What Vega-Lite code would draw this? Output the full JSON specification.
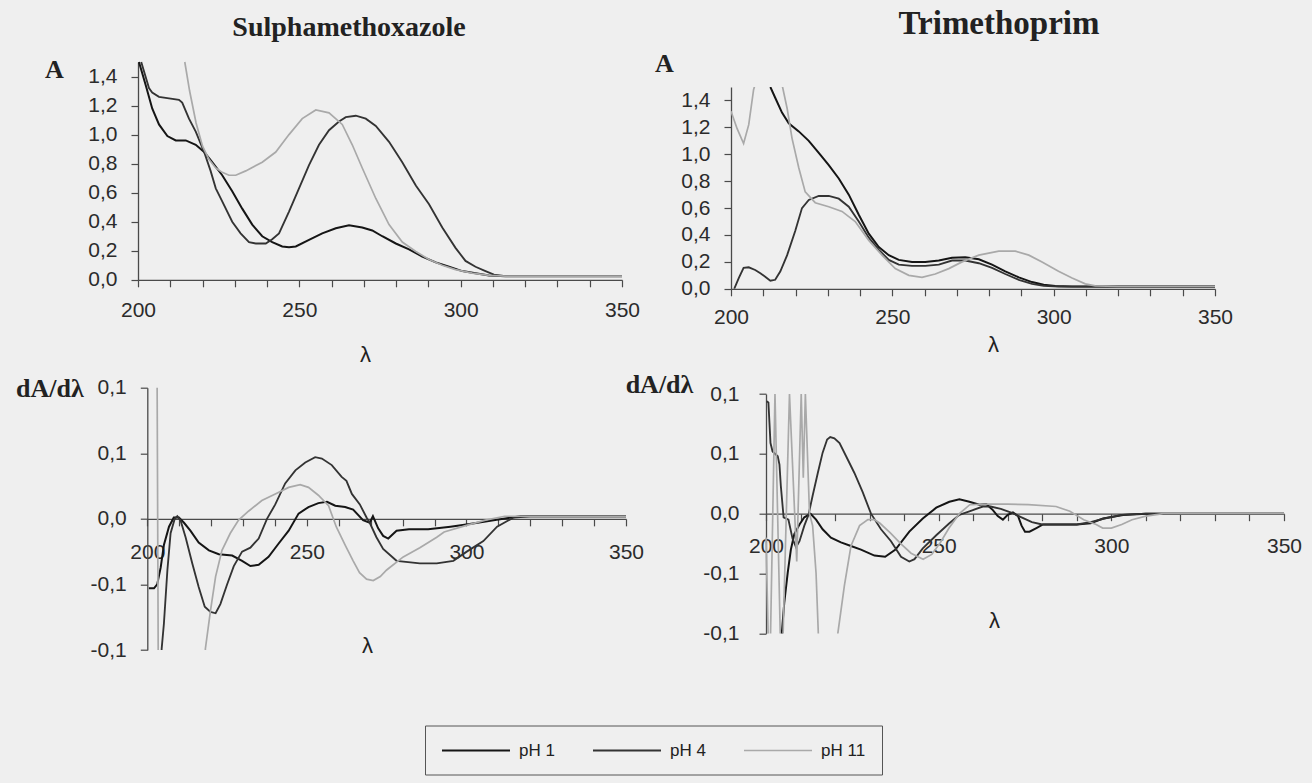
{
"$schema":"https://vega.github.io/schema/vega-lite/v6.json",
"background":"#efefef",
"autosize":{"type":"pad"},
"padding":{"left":15,"top":8,"right":10,"bottom":10},
"datasets":{
"smxA":[
{"lambda":200.3,"value":1.5,"pH":"pH 1"},{"lambda":202.4,"value":1.34,"pH":"pH 1"},{"lambda":204.4,"value":1.18,"pH":"pH 1"},{"lambda":206.5,"value":1.07,"pH":"pH 1"},{"lambda":209.1,"value":0.99,"pH":"pH 1"},{"lambda":211.7,"value":0.96,"pH":"pH 1"},{"lambda":214.8,"value":0.96,"pH":"pH 1"},{"lambda":217.9,"value":0.93,"pH":"pH 1"},{"lambda":220.5,"value":0.88,"pH":"pH 1"},{"lambda":223.0,"value":0.81,"pH":"pH 1"},{"lambda":226.1,"value":0.72,"pH":"pH 1"},{"lambda":229.2,"value":0.61,"pH":"pH 1"},{"lambda":232.3,"value":0.49,"pH":"pH 1"},{"lambda":235.4,"value":0.38,"pH":"pH 1"},{"lambda":238.5,"value":0.30,"pH":"pH 1"},{"lambda":241.6,"value":0.26,"pH":"pH 1"},{"lambda":244.7,"value":0.23,"pH":"pH 1"},{"lambda":246.8,"value":0.225,"pH":"pH 1"},{"lambda":248.9,"value":0.23,"pH":"pH 1"},{"lambda":253.0,"value":0.275,"pH":"pH 1"},{"lambda":257.1,"value":0.32,"pH":"pH 1"},{"lambda":261.3,"value":0.355,"pH":"pH 1"},{"lambda":265.4,"value":0.375,"pH":"pH 1"},{"lambda":269.5,"value":0.36,"pH":"pH 1"},{"lambda":272.6,"value":0.34,"pH":"pH 1"},{"lambda":275.7,"value":0.30,"pH":"pH 1"},{"lambda":279.9,"value":0.25,"pH":"pH 1"},{"lambda":284.0,"value":0.21,"pH":"pH 1"},{"lambda":288.1,"value":0.16,"pH":"pH 1"},{"lambda":292.3,"value":0.12,"pH":"pH 1"},{"lambda":296.4,"value":0.09,"pH":"pH 1"},{"lambda":300.5,"value":0.06,"pH":"pH 1"},{"lambda":304.6,"value":0.045,"pH":"pH 1"},{"lambda":308.8,"value":0.03,"pH":"pH 1"},{"lambda":313.9,"value":0.025,"pH":"pH 1"},{"lambda":330,"value":0.025,"pH":"pH 1"},{"lambda":350,"value":0.025,"pH":"pH 1"},
{"lambda":201.0,"value":1.5,"pH":"pH 4"},{"lambda":203.4,"value":1.32,"pH":"pH 4"},{"lambda":204.4,"value":1.29,"pH":"pH 4"},{"lambda":206.5,"value":1.26,"pH":"pH 4"},{"lambda":209.6,"value":1.25,"pH":"pH 4"},{"lambda":212.7,"value":1.24,"pH":"pH 4"},{"lambda":213.7,"value":1.22,"pH":"pH 4"},{"lambda":215.8,"value":1.11,"pH":"pH 4"},{"lambda":217.9,"value":1.02,"pH":"pH 4"},{"lambda":220.5,"value":0.88,"pH":"pH 4"},{"lambda":222.5,"value":0.75,"pH":"pH 4"},{"lambda":224.1,"value":0.63,"pH":"pH 4"},{"lambda":226.1,"value":0.54,"pH":"pH 4"},{"lambda":229.2,"value":0.40,"pH":"pH 4"},{"lambda":231.8,"value":0.32,"pH":"pH 4"},{"lambda":234.4,"value":0.26,"pH":"pH 4"},{"lambda":236.5,"value":0.25,"pH":"pH 4"},{"lambda":239.6,"value":0.25,"pH":"pH 4"},{"lambda":241.6,"value":0.28,"pH":"pH 4"},{"lambda":243.7,"value":0.32,"pH":"pH 4"},{"lambda":246.8,"value":0.47,"pH":"pH 4"},{"lambda":249.9,"value":0.63,"pH":"pH 4"},{"lambda":253.0,"value":0.79,"pH":"pH 4"},{"lambda":256.1,"value":0.93,"pH":"pH 4"},{"lambda":259.2,"value":1.03,"pH":"pH 4"},{"lambda":262.3,"value":1.09,"pH":"pH 4"},{"lambda":264.4,"value":1.12,"pH":"pH 4"},{"lambda":267.5,"value":1.13,"pH":"pH 4"},{"lambda":270.6,"value":1.11,"pH":"pH 4"},{"lambda":273.7,"value":1.06,"pH":"pH 4"},{"lambda":277.8,"value":0.95,"pH":"pH 4"},{"lambda":281.9,"value":0.81,"pH":"pH 4"},{"lambda":286.1,"value":0.65,"pH":"pH 4"},{"lambda":290.2,"value":0.52,"pH":"pH 4"},{"lambda":294.3,"value":0.36,"pH":"pH 4"},{"lambda":298.4,"value":0.22,"pH":"pH 4"},{"lambda":301.5,"value":0.13,"pH":"pH 4"},{"lambda":304.6,"value":0.09,"pH":"pH 4"},{"lambda":307.7,"value":0.06,"pH":"pH 4"},{"lambda":310.3,"value":0.035,"pH":"pH 4"},{"lambda":313.9,"value":0.025,"pH":"pH 4"},{"lambda":330,"value":0.025,"pH":"pH 4"},{"lambda":350,"value":0.025,"pH":"pH 4"},
{"lambda":214.5,"value":1.5,"pH":"pH 11"},{"lambda":216.0,"value":1.3,"pH":"pH 11"},{"lambda":218.0,"value":1.08,"pH":"pH 11"},{"lambda":220.0,"value":0.92,"pH":"pH 11"},{"lambda":222.0,"value":0.83,"pH":"pH 11"},{"lambda":224.1,"value":0.77,"pH":"pH 11"},{"lambda":226.1,"value":0.74,"pH":"pH 11"},{"lambda":228.2,"value":0.72,"pH":"pH 11"},{"lambda":230.3,"value":0.72,"pH":"pH 11"},{"lambda":233.4,"value":0.75,"pH":"pH 11"},{"lambda":238.5,"value":0.81,"pH":"pH 11"},{"lambda":242.7,"value":0.88,"pH":"pH 11"},{"lambda":246.8,"value":1.0,"pH":"pH 11"},{"lambda":250.9,"value":1.11,"pH":"pH 11"},{"lambda":255.1,"value":1.17,"pH":"pH 11"},{"lambda":259.2,"value":1.15,"pH":"pH 11"},{"lambda":263.3,"value":1.07,"pH":"pH 11"},{"lambda":266.4,"value":0.93,"pH":"pH 11"},{"lambda":269.5,"value":0.77,"pH":"pH 11"},{"lambda":273.7,"value":0.56,"pH":"pH 11"},{"lambda":277.8,"value":0.38,"pH":"pH 11"},{"lambda":281.9,"value":0.26,"pH":"pH 11"},{"lambda":286.1,"value":0.195,"pH":"pH 11"},{"lambda":290.2,"value":0.14,"pH":"pH 11"},{"lambda":294.3,"value":0.10,"pH":"pH 11"},{"lambda":298.4,"value":0.07,"pH":"pH 11"},{"lambda":303.6,"value":0.046,"pH":"pH 11"},{"lambda":308.8,"value":0.03,"pH":"pH 11"},{"lambda":313.9,"value":0.025,"pH":"pH 11"},{"lambda":350,"value":0.025,"pH":"pH 11"}
],
"tmpA":[
{"lambda":212.2,"value":1.5,"pH":"pH 1"},{"lambda":213.7,"value":1.42,"pH":"pH 1"},{"lambda":215.8,"value":1.31,"pH":"pH 1"},{"lambda":217.9,"value":1.23,"pH":"pH 1"},{"lambda":221.0,"value":1.17,"pH":"pH 1"},{"lambda":224.1,"value":1.10,"pH":"pH 1"},{"lambda":227.2,"value":1.01,"pH":"pH 1"},{"lambda":230.3,"value":0.92,"pH":"pH 1"},{"lambda":233.4,"value":0.82,"pH":"pH 1"},{"lambda":236.5,"value":0.70,"pH":"pH 1"},{"lambda":239.6,"value":0.55,"pH":"pH 1"},{"lambda":242.7,"value":0.41,"pH":"pH 1"},{"lambda":245.8,"value":0.31,"pH":"pH 1"},{"lambda":248.9,"value":0.25,"pH":"pH 1"},{"lambda":252.0,"value":0.215,"pH":"pH 1"},{"lambda":256.1,"value":0.20,"pH":"pH 1"},{"lambda":260.2,"value":0.20,"pH":"pH 1"},{"lambda":264.4,"value":0.21,"pH":"pH 1"},{"lambda":268.5,"value":0.23,"pH":"pH 1"},{"lambda":272.6,"value":0.235,"pH":"pH 1"},{"lambda":276.8,"value":0.22,"pH":"pH 1"},{"lambda":280.9,"value":0.18,"pH":"pH 1"},{"lambda":285.0,"value":0.13,"pH":"pH 1"},{"lambda":289.2,"value":0.085,"pH":"pH 1"},{"lambda":293.3,"value":0.05,"pH":"pH 1"},{"lambda":296.9,"value":0.03,"pH":"pH 1"},{"lambda":300.5,"value":0.02,"pH":"pH 1"},{"lambda":305.7,"value":0.017,"pH":"pH 1"},{"lambda":350,"value":0.017,"pH":"pH 1"},
{"lambda":201.0,"value":0,"pH":"pH 4"},{"lambda":202.4,"value":0.08,"pH":"pH 4"},{"lambda":203.9,"value":0.155,"pH":"pH 4"},{"lambda":205.5,"value":0.16,"pH":"pH 4"},{"lambda":207.5,"value":0.14,"pH":"pH 4"},{"lambda":209.1,"value":0.115,"pH":"pH 4"},{"lambda":210.6,"value":0.09,"pH":"pH 4"},{"lambda":212.2,"value":0.06,"pH":"pH 4"},{"lambda":213.7,"value":0.067,"pH":"pH 4"},{"lambda":215.3,"value":0.13,"pH":"pH 4"},{"lambda":217.4,"value":0.25,"pH":"pH 4"},{"lambda":219.9,"value":0.43,"pH":"pH 4"},{"lambda":222.0,"value":0.60,"pH":"pH 4"},{"lambda":224.1,"value":0.66,"pH":"pH 4"},{"lambda":227.2,"value":0.69,"pH":"pH 4"},{"lambda":230.3,"value":0.69,"pH":"pH 4"},{"lambda":233.4,"value":0.67,"pH":"pH 4"},{"lambda":236.5,"value":0.61,"pH":"pH 4"},{"lambda":239.6,"value":0.50,"pH":"pH 4"},{"lambda":242.7,"value":0.38,"pH":"pH 4"},{"lambda":245.8,"value":0.29,"pH":"pH 4"},{"lambda":248.9,"value":0.215,"pH":"pH 4"},{"lambda":252.0,"value":0.18,"pH":"pH 4"},{"lambda":256.1,"value":0.17,"pH":"pH 4"},{"lambda":260.2,"value":0.17,"pH":"pH 4"},{"lambda":264.4,"value":0.18,"pH":"pH 4"},{"lambda":268.5,"value":0.21,"pH":"pH 4"},{"lambda":272.6,"value":0.21,"pH":"pH 4"},{"lambda":276.8,"value":0.19,"pH":"pH 4"},{"lambda":280.9,"value":0.155,"pH":"pH 4"},{"lambda":285.0,"value":0.11,"pH":"pH 4"},{"lambda":289.2,"value":0.067,"pH":"pH 4"},{"lambda":293.3,"value":0.037,"pH":"pH 4"},{"lambda":296.9,"value":0.022,"pH":"pH 4"},{"lambda":301.5,"value":0.017,"pH":"pH 4"},{"lambda":350,"value":0.015,"pH":"pH 4"},
{"lambda":200.0,"value":1.32,"pH":"pH 11"},{"lambda":201.9,"value":1.19,"pH":"pH 11"},{"lambda":203.9,"value":1.08,"pH":"pH 11"},{"lambda":205.5,"value":1.22,"pH":"pH 11"},{"lambda":207.0,"value":1.48,"pH":"pH 11"},{"lambda":207.5,"value":1.52,"pH":"pH 11"},{"lambda":211.5,"value":1.8,"pH":"pH 11"},{"lambda":215.8,"value":1.52,"pH":"pH 11"},{"lambda":217.4,"value":1.34,"pH":"pH 11"},{"lambda":218.9,"value":1.12,"pH":"pH 11"},{"lambda":221.0,"value":0.90,"pH":"pH 11"},{"lambda":223.0,"value":0.72,"pH":"pH 11"},{"lambda":226.1,"value":0.64,"pH":"pH 11"},{"lambda":230.3,"value":0.61,"pH":"pH 11"},{"lambda":234.4,"value":0.575,"pH":"pH 11"},{"lambda":238.5,"value":0.50,"pH":"pH 11"},{"lambda":242.7,"value":0.36,"pH":"pH 11"},{"lambda":246.8,"value":0.25,"pH":"pH 11"},{"lambda":250.9,"value":0.15,"pH":"pH 11"},{"lambda":255.1,"value":0.10,"pH":"pH 11"},{"lambda":259.2,"value":0.085,"pH":"pH 11"},{"lambda":263.3,"value":0.11,"pH":"pH 11"},{"lambda":267.5,"value":0.15,"pH":"pH 11"},{"lambda":271.6,"value":0.20,"pH":"pH 11"},{"lambda":276.8,"value":0.25,"pH":"pH 11"},{"lambda":283.0,"value":0.28,"pH":"pH 11"},{"lambda":288.1,"value":0.28,"pH":"pH 11"},{"lambda":292.3,"value":0.25,"pH":"pH 11"},{"lambda":296.4,"value":0.20,"pH":"pH 11"},{"lambda":301.5,"value":0.13,"pH":"pH 11"},{"lambda":305.7,"value":0.08,"pH":"pH 11"},{"lambda":309.8,"value":0.037,"pH":"pH 11"},{"lambda":312.9,"value":0.022,"pH":"pH 11"},{"lambda":320,"value":0.017,"pH":"pH 11"},{"lambda":350,"value":0.017,"pH":"pH 11"}
],
"smxD":[
{"lambda":200.5,"value":-0.053,"pH":"pH 1"},{"lambda":202.1,"value":-0.053,"pH":"pH 1"},{"lambda":203.1,"value":-0.05,"pH":"pH 1"},{"lambda":204.2,"value":-0.037,"pH":"pH 1"},{"lambda":205.2,"value":-0.02,"pH":"pH 1"},{"lambda":206.8,"value":-0.006,"pH":"pH 1"},{"lambda":208.3,"value":0.001,"pH":"pH 1"},{"lambda":209.9,"value":0.001,"pH":"pH 1"},{"lambda":211.5,"value":-0.003,"pH":"pH 1"},{"lambda":213.5,"value":-0.009,"pH":"pH 1"},{"lambda":216.1,"value":-0.018,"pH":"pH 1"},{"lambda":219.3,"value":-0.024,"pH":"pH 1"},{"lambda":222.4,"value":-0.027,"pH":"pH 1"},{"lambda":226.6,"value":-0.028,"pH":"pH 1"},{"lambda":229.7,"value":-0.032,"pH":"pH 1"},{"lambda":232.3,"value":-0.036,"pH":"pH 1"},{"lambda":234.9,"value":-0.035,"pH":"pH 1"},{"lambda":238.0,"value":-0.029,"pH":"pH 1"},{"lambda":241.1,"value":-0.019,"pH":"pH 1"},{"lambda":244.3,"value":-0.009,"pH":"pH 1"},{"lambda":247.4,"value":0.004,"pH":"pH 1"},{"lambda":250.5,"value":0.009,"pH":"pH 1"},{"lambda":253.6,"value":0.012,"pH":"pH 1"},{"lambda":256.3,"value":0.013,"pH":"pH 1"},{"lambda":258.9,"value":0.010,"pH":"pH 1"},{"lambda":262.0,"value":0.009,"pH":"pH 1"},{"lambda":264.5,"value":0.007,"pH":"pH 1"},{"lambda":267.6,"value":-0.001,"pH":"pH 1"},{"lambda":269.7,"value":-0.003,"pH":"pH 1"},{"lambda":270.7,"value":0.002,"pH":"pH 1"},{"lambda":272.3,"value":-0.007,"pH":"pH 1"},{"lambda":273.9,"value":-0.013,"pH":"pH 1"},{"lambda":275.5,"value":-0.015,"pH":"pH 1"},{"lambda":278.1,"value":-0.009,"pH":"pH 1"},{"lambda":282,"value":-0.008,"pH":"pH 1"},{"lambda":288,"value":-0.008,"pH":"pH 1"},{"lambda":295,"value":-0.006,"pH":"pH 1"},{"lambda":301,"value":-0.004,"pH":"pH 1"},{"lambda":308.5,"value":-0.001,"pH":"pH 1"},{"lambda":316.9,"value":0.002,"pH":"pH 1"},{"lambda":350,"value":0.002,"pH":"pH 1"},
{"lambda":203.8,"value":-0.15,"pH":"pH 4"},{"lambda":204.5,"value":-0.099,"pH":"pH 4"},{"lambda":205.2,"value":-0.08,"pH":"pH 4"},{"lambda":206.3,"value":-0.039,"pH":"pH 4"},{"lambda":207.3,"value":-0.011,"pH":"pH 4"},{"lambda":208.6,"value":0,"pH":"pH 4"},{"lambda":209.4,"value":0.002,"pH":"pH 4"},{"lambda":210.4,"value":-0.001,"pH":"pH 4"},{"lambda":212.0,"value":-0.014,"pH":"pH 4"},{"lambda":214.1,"value":-0.034,"pH":"pH 4"},{"lambda":216.1,"value":-0.052,"pH":"pH 4"},{"lambda":218.0,"value":-0.067,"pH":"pH 4"},{"lambda":219.8,"value":-0.071,"pH":"pH 4"},{"lambda":221.4,"value":-0.072,"pH":"pH 4"},{"lambda":222.9,"value":-0.065,"pH":"pH 4"},{"lambda":225.0,"value":-0.05,"pH":"pH 4"},{"lambda":227.1,"value":-0.036,"pH":"pH 4"},{"lambda":229.7,"value":-0.025,"pH":"pH 4"},{"lambda":232.3,"value":-0.022,"pH":"pH 4"},{"lambda":234.9,"value":-0.015,"pH":"pH 4"},{"lambda":237.5,"value":0,"pH":"pH 4"},{"lambda":240.1,"value":0.011,"pH":"pH 4"},{"lambda":243.2,"value":0.027,"pH":"pH 4"},{"lambda":246.4,"value":0.037,"pH":"pH 4"},{"lambda":249.5,"value":0.043,"pH":"pH 4"},{"lambda":252.6,"value":0.047,"pH":"pH 4"},{"lambda":254.7,"value":0.046,"pH":"pH 4"},{"lambda":257.8,"value":0.041,"pH":"pH 4"},{"lambda":260.9,"value":0.032,"pH":"pH 4"},{"lambda":262.4,"value":0.029,"pH":"pH 4"},{"lambda":264.1,"value":0.019,"pH":"pH 4"},{"lambda":266.6,"value":0.011,"pH":"pH 4"},{"lambda":268.7,"value":0.001,"pH":"pH 4"},{"lambda":269.7,"value":-0.003,"pH":"pH 4"},{"lambda":271.8,"value":-0.014,"pH":"pH 4"},{"lambda":273.9,"value":-0.023,"pH":"pH 4"},{"lambda":278.1,"value":-0.032,"pH":"pH 4"},{"lambda":285.4,"value":-0.034,"pH":"pH 4"},{"lambda":290.7,"value":-0.034,"pH":"pH 4"},{"lambda":295.9,"value":-0.032,"pH":"pH 4"},{"lambda":300.1,"value":-0.025,"pH":"pH 4"},{"lambda":305.3,"value":-0.017,"pH":"pH 4"},{"lambda":309.6,"value":-0.006,"pH":"pH 4"},{"lambda":314.8,"value":0.001,"pH":"pH 4"},{"lambda":320,"value":0.002,"pH":"pH 4"},{"lambda":350,"value":0.002,"pH":"pH 4"},
{"lambda":200,"value":0.15,"pH":"pH 11"},{"lambda":203.0,"value":0.15,"pH":"pH 11"},{"lambda":203.5,"value":-0.15,"pH":"pH 11"},{"lambda":217.9,"value":-0.15,"pH":"pH 11"},{"lambda":218.2,"value":-0.099,"pH":"pH 11"},{"lambda":219.8,"value":-0.07,"pH":"pH 11"},{"lambda":221.4,"value":-0.044,"pH":"pH 11"},{"lambda":223.4,"value":-0.024,"pH":"pH 11"},{"lambda":226.0,"value":-0.011,"pH":"pH 11"},{"lambda":228.6,"value":-0.001,"pH":"pH 11"},{"lambda":231.8,"value":0.006,"pH":"pH 11"},{"lambda":235.9,"value":0.014,"pH":"pH 11"},{"lambda":240.1,"value":0.019,"pH":"pH 11"},{"lambda":244.3,"value":0.024,"pH":"pH 11"},{"lambda":247.9,"value":0.026,"pH":"pH 11"},{"lambda":250.5,"value":0.024,"pH":"pH 11"},{"lambda":253.6,"value":0.018,"pH":"pH 11"},{"lambda":256.8,"value":0.010,"pH":"pH 11"},{"lambda":259.2,"value":-0.006,"pH":"pH 11"},{"lambda":262.0,"value":-0.02,"pH":"pH 11"},{"lambda":264.5,"value":-0.032,"pH":"pH 11"},{"lambda":266.5,"value":-0.041,"pH":"pH 11"},{"lambda":268.7,"value":-0.046,"pH":"pH 11"},{"lambda":270.8,"value":-0.047,"pH":"pH 11"},{"lambda":273.0,"value":-0.044,"pH":"pH 11"},{"lambda":275.0,"value":-0.039,"pH":"pH 11"},{"lambda":280.2,"value":-0.029,"pH":"pH 11"},{"lambda":285.4,"value":-0.022,"pH":"pH 11"},{"lambda":290.7,"value":-0.014,"pH":"pH 11"},{"lambda":293,"value":-0.01,"pH":"pH 11"},{"lambda":300,"value":-0.005,"pH":"pH 11"},{"lambda":306,"value":-0.001,"pH":"pH 11"},{"lambda":312,"value":0.002,"pH":"pH 11"},{"lambda":350,"value":0.002,"pH":"pH 11"}
],
"tmpD":[
{"lambda":204.2,"value":-0.15,"pH":"pH 1"},{"lambda":204.6,"value":-0.099,"pH":"pH 1"},{"lambda":205.3,"value":-0.074,"pH":"pH 1"},{"lambda":206.3,"value":-0.049,"pH":"pH 1"},{"lambda":207.2,"value":-0.030,"pH":"pH 1"},{"lambda":208.2,"value":-0.017,"pH":"pH 1"},{"lambda":209.7,"value":-0.009,"pH":"pH 1"},{"lambda":211.1,"value":-0.003,"pH":"pH 1"},{"lambda":212.9,"value":0,"pH":"pH 1"},{"lambda":214.5,"value":-0.005,"pH":"pH 1"},{"lambda":216.4,"value":-0.013,"pH":"pH 1"},{"lambda":218.8,"value":-0.020,"pH":"pH 1"},{"lambda":221.7,"value":-0.024,"pH":"pH 1"},{"lambda":224.6,"value":-0.027,"pH":"pH 1"},{"lambda":227.5,"value":-0.030,"pH":"pH 1"},{"lambda":231.4,"value":-0.035,"pH":"pH 1"},{"lambda":234.5,"value":-0.036,"pH":"pH 1"},{"lambda":237.5,"value":-0.030,"pH":"pH 1"},{"lambda":241.5,"value":-0.015,"pH":"pH 1"},{"lambda":245.4,"value":-0.004,"pH":"pH 1"},{"lambda":249.3,"value":0.005,"pH":"pH 1"},{"lambda":253.1,"value":0.010,"pH":"pH 1"},{"lambda":256.0,"value":0.012,"pH":"pH 1"},{"lambda":258.9,"value":0.010,"pH":"pH 1"},{"lambda":261.8,"value":0.0075,"pH":"pH 1"},{"lambda":263.8,"value":0.008,"pH":"pH 1"},{"lambda":265.7,"value":0.003,"pH":"pH 1"},{"lambda":267.1,"value":-0.002,"pH":"pH 1"},{"lambda":268.6,"value":-0.005,"pH":"pH 1"},{"lambda":270.0,"value":-0.001,"pH":"pH 1"},{"lambda":271.5,"value":0.001,"pH":"pH 1"},{"lambda":273.0,"value":-0.002,"pH":"pH 1"},{"lambda":274.0,"value":-0.010,"pH":"pH 1"},{"lambda":275.0,"value":-0.015,"pH":"pH 1"},{"lambda":276.3,"value":-0.015,"pH":"pH 1"},{"lambda":278.3,"value":-0.012,"pH":"pH 1"},{"lambda":280.2,"value":-0.009,"pH":"pH 1"},{"lambda":284,"value":-0.009,"pH":"pH 1"},{"lambda":290,"value":-0.009,"pH":"pH 1"},{"lambda":294,"value":-0.008,"pH":"pH 1"},{"lambda":297.6,"value":-0.004,"pH":"pH 1"},{"lambda":303.4,"value":-0.001,"pH":"pH 1"},{"lambda":310,"value":0,"pH":"pH 1"},{"lambda":350,"value":0,"pH":"pH 1"},
{"lambda":200.2,"value":0.094,"pH":"pH 4"},{"lambda":200.7,"value":0.093,"pH":"pH 4"},{"lambda":201.3,"value":0.059,"pH":"pH 4"},{"lambda":201.9,"value":0.052,"pH":"pH 4"},{"lambda":203.4,"value":0.048,"pH":"pH 4"},{"lambda":203.9,"value":0.041,"pH":"pH 4"},{"lambda":204.3,"value":0.023,"pH":"pH 4"},{"lambda":205.1,"value":-0.003,"pH":"pH 4"},{"lambda":206.5,"value":-0.005,"pH":"pH 4"},{"lambda":207.7,"value":-0.021,"pH":"pH 4"},{"lambda":208.7,"value":-0.028,"pH":"pH 4"},{"lambda":209.7,"value":-0.023,"pH":"pH 4"},{"lambda":211.1,"value":-0.010,"pH":"pH 4"},{"lambda":212.3,"value":-0.001,"pH":"pH 4"},{"lambda":213.5,"value":0.015,"pH":"pH 4"},{"lambda":215.0,"value":0.034,"pH":"pH 4"},{"lambda":216.4,"value":0.051,"pH":"pH 4"},{"lambda":217.7,"value":0.062,"pH":"pH 4"},{"lambda":218.6,"value":0.064,"pH":"pH 4"},{"lambda":219.8,"value":0.063,"pH":"pH 4"},{"lambda":221.3,"value":0.059,"pH":"pH 4"},{"lambda":223.2,"value":0.048,"pH":"pH 4"},{"lambda":225.6,"value":0.034,"pH":"pH 4"},{"lambda":228.0,"value":0.018,"pH":"pH 4"},{"lambda":230.4,"value":0,"pH":"pH 4"},{"lambda":233.3,"value":-0.013,"pH":"pH 4"},{"lambda":236.2,"value":-0.023,"pH":"pH 4"},{"lambda":239.1,"value":-0.036,"pH":"pH 4"},{"lambda":241.5,"value":-0.040,"pH":"pH 4"},{"lambda":243.0,"value":-0.038,"pH":"pH 4"},{"lambda":245.4,"value":-0.029,"pH":"pH 4"},{"lambda":249.3,"value":-0.018,"pH":"pH 4"},{"lambda":253.1,"value":-0.008,"pH":"pH 4"},{"lambda":256.0,"value":-0.001,"pH":"pH 4"},{"lambda":258.9,"value":0.002,"pH":"pH 4"},{"lambda":262.8,"value":0.006,"pH":"pH 4"},{"lambda":265,"value":0.006,"pH":"pH 4"},{"lambda":268,"value":0.004,"pH":"pH 4"},{"lambda":271,"value":0.001,"pH":"pH 4"},{"lambda":274,"value":-0.003,"pH":"pH 4"},{"lambda":277,"value":-0.007,"pH":"pH 4"},{"lambda":280,"value":-0.009,"pH":"pH 4"},{"lambda":284,"value":-0.009,"pH":"pH 4"},{"lambda":290,"value":-0.009,"pH":"pH 4"},{"lambda":294,"value":-0.007,"pH":"pH 4"},{"lambda":298,"value":-0.004,"pH":"pH 4"},{"lambda":303,"value":-0.001,"pH":"pH 4"},{"lambda":310,"value":0,"pH":"pH 4"},{"lambda":350,"value":0,"pH":"pH 4"},
{"lambda":200.0,"value":-0.02,"pH":"pH 11"},{"lambda":201.0,"value":-0.15,"pH":"pH 11"},{"lambda":202.6,"value":0.1,"pH":"pH 11"},{"lambda":204.5,"value":-0.15,"pH":"pH 11"},{"lambda":206.8,"value":0.1,"pH":"pH 11"},{"lambda":208.9,"value":-0.04,"pH":"pH 11"},{"lambda":210.2,"value":0.1,"pH":"pH 11"},{"lambda":210.8,"value":0.03,"pH":"pH 11"},{"lambda":211.4,"value":0.1,"pH":"pH 11"},{"lambda":212.6,"value":0.0,"pH":"pH 11"},{"lambda":213.5,"value":-0.01,"pH":"pH 11"},{"lambda":214.5,"value":-0.05,"pH":"pH 11"},{"lambda":215.8,"value":-0.15,"pH":"pH 11"},{"lambda":220.5,"value":-0.15,"pH":"pH 11"},{"lambda":220.8,"value":-0.1,"pH":"pH 11"},{"lambda":222.7,"value":-0.06,"pH":"pH 11"},{"lambda":224.6,"value":-0.027,"pH":"pH 11"},{"lambda":227.1,"value":-0.010,"pH":"pH 11"},{"lambda":229.5,"value":-0.005,"pH":"pH 11"},{"lambda":231.4,"value":-0.005,"pH":"pH 11"},{"lambda":233,"value":-0.008,"pH":"pH 11"},{"lambda":236,"value":-0.016,"pH":"pH 11"},{"lambda":239,"value":-0.025,"pH":"pH 11"},{"lambda":242,"value":-0.033,"pH":"pH 11"},{"lambda":245.5,"value":-0.038,"pH":"pH 11"},{"lambda":248,"value":-0.034,"pH":"pH 11"},{"lambda":250.5,"value":-0.024,"pH":"pH 11"},{"lambda":253,"value":-0.012,"pH":"pH 11"},{"lambda":256,"value":0,"pH":"pH 11"},{"lambda":259,"value":0.0075,"pH":"pH 11"},{"lambda":264,"value":0.008,"pH":"pH 11"},{"lambda":270,"value":0.008,"pH":"pH 11"},{"lambda":276,"value":0.0075,"pH":"pH 11"},{"lambda":284,"value":0.006,"pH":"pH 11"},{"lambda":288,"value":0.002,"pH":"pH 11"},{"lambda":292,"value":-0.005,"pH":"pH 11"},{"lambda":295.6,"value":-0.009,"pH":"pH 11"},{"lambda":297.5,"value":-0.012,"pH":"pH 11"},{"lambda":300,"value":-0.012,"pH":"pH 11"},{"lambda":303,"value":-0.009,"pH":"pH 11"},{"lambda":306,"value":-0.005,"pH":"pH 11"},{"lambda":310,"value":-0.002,"pH":"pH 11"},{"lambda":315,"value":0,"pH":"pH 11"},{"lambda":350,"value":0,"pH":"pH 11"}
]
},
"columns":2,
"spacing":{"row":98.7,"column":105},
"bounds":"flush",
"align":"each",
"resolve":{"scale":{"x":"independent","y":"independent","color":"shared","strokeWidth":"shared"},"legend":{"color":"shared"}},
"concat":[
{
"width":484,"height":192.8,
"title":{"text":"Sulphamethoxazole","fontSize":28,"anchor":"middle","frame":"group","dx":-31,"offset":15},
"data":{"name":"smxA"},
"mark":{"type":"line","clip":false},
"encoding":{
"x":{"field":"lambda","type":"quantitative","scale":{"domain":[200,350],"range":[0,484],"nice":false,"zero":false},
 "axis":{"values":[200,210,220,230,240,250,260,270,280,290,300,310,320,330,340,350],"labelExpr":"datum.value % 50 === 0 ? datum.label : ''","labelPadding":12.7,"labelFlush":false,"labelOverlap":false,"title":"λ","titleX":227,"titleY":75,"titleAlign":"center","titleBaseline":"middle","titleFontSize":22}},
"y":{"field":"value","type":"quantitative","scale":{"domain":[0,1.5],"range":[192.8,-25],"nice":false},
 "axis":{"values":[0,0.2,0.4,0.6,0.8,1,1.2,1.4],"labelExpr":"replace(format(datum.value,'.1f'),'.',',')","labelPadding":14,"labelOverlap":false,"title":"A","titleAngle":0,"titleX":-84,"titleY":-17.5,"titleAlign":"center","titleBaseline":"middle","titleFont":"Liberation Serif","titleFontWeight":"bold","titleFontSize":26}},
"color":{"field":"pH","type":"nominal","scale":{"domain":["pH 1","pH 4","pH 11"],"range":["#151515","#333333","#a9a9a9"]},"legend":{"title":null}},
"strokeWidth":{"field":"pH","type":"ordinal","scale":{"domain":["pH 1","pH 4","pH 11"],"range":[2,1.7,1.1]},"legend":null}
}
},
{
"width":484,"height":201.8,
"title":{"text":"Trimethoprim","fontSize":33,"anchor":"middle","frame":"group","dx":26,"offset":9},
"data":{"name":"tmpA"},
"mark":{"type":"line","clip":true},
"encoding":{
"x":{"field":"lambda","type":"quantitative","scale":{"domain":[200,350],"nice":false,"zero":false},
 "axis":{"values":[200,210,220,230,240,250,260,270,280,290,300,310,320,330,340,350],"labelExpr":"datum.value % 50 === 0 ? datum.label : ''","labelPadding":10.4,"labelFlush":false,"labelOverlap":false,"title":"λ","titleX":262,"titleY":55.7,"titleAlign":"center","titleBaseline":"middle","titleFontSize":22}},
"y":{"field":"value","type":"quantitative","scale":{"domain":[0,1.5],"nice":false},
 "axis":{"values":[0,0.2,0.4,0.6,0.8,1,1.2,1.4],"labelExpr":"replace(format(datum.value,'.1f'),'.',',')","labelPadding":14,"labelOverlap":false,"title":"A","titleAngle":0,"titleX":-67,"titleY":-24,"titleAlign":"center","titleBaseline":"middle","titleFont":"Liberation Serif","titleFontWeight":"bold","titleFontSize":26}},
"color":{"field":"pH","type":"nominal","scale":{"domain":["pH 1","pH 4","pH 11"],"range":["#151515","#333333","#a9a9a9"]},"legend":{"title":null}},
"strokeWidth":{"field":"pH","type":"ordinal","scale":{"domain":["pH 1","pH 4","pH 11"],"range":[2,1.7,1.1]},"legend":null}
}
},
{
"width":488,"height":262.3,
"data":{"name":"smxD"},
"mark":{"type":"line","clip":true},
"encoding":{
"x":{"field":"lambda","type":"quantitative","scale":{"domain":[200,350],"range":[9.3,488],"nice":false,"zero":false},
 "axis":{"offset":-131.15,"values":[200,210,220,230,240,250,260,270,280,290,300,310,320,330,340,350],"labelExpr":"datum.value % 50 === 0 ? datum.label : ''","labelPadding":15.4,"labelFlush":false,"labelOverlap":false,"title":"λ","titleX":229,"titleY":126.7,"titleAlign":"center","titleBaseline":"middle","titleFontSize":22}},
"y":{"field":"value","type":"quantitative","scale":{"domain":[-0.1,0.1],"nice":false},
 "axis":{"offset":-9.3,"values":[-0.1,-0.05,0,0.05,0.1],"labelExpr":"replace(replace(format(datum.value,'.1f'),'.',','),'−','-')","labelPadding":14,"labelOverlap":false,"title":"dA/dλ","titleAngle":0,"titleX":-98,"titleY":1,"titleAlign":"center","titleBaseline":"middle","titleFont":"Liberation Serif","titleFontWeight":"bold","titleFontSize":26}},
"color":{"field":"pH","type":"nominal","scale":{"domain":["pH 1","pH 4","pH 11"],"range":["#151515","#333333","#a9a9a9"]},"legend":{"title":null}},
"strokeWidth":{"field":"pH","type":"ordinal","scale":{"domain":["pH 1","pH 4","pH 11"],"range":[2,1.7,1.1]},"legend":null}
}
},
{
"width":553,"height":245.7,
"data":{"name":"tmpD"},
"mark":{"type":"line","clip":true},
"encoding":{
"x":{"field":"lambda","type":"quantitative","scale":{"domain":[200,350],"range":[35,553],"nice":false,"zero":false},
 "axis":{"offset":-119.7,"values":[200,210,220,230,240,250,260,270,280,290,300,310,320,330,340,350],"labelExpr":"datum.value % 50 === 0 ? datum.label : ''","labelPadding":14.7,"labelFlush":false,"labelOverlap":false,"title":"λ","titleX":263,"titleY":106.7,"titleAlign":"center","titleBaseline":"middle","titleFontSize":22}},
"y":{"field":"value","type":"quantitative","scale":{"domain":[-0.1,0.1],"range":[245.7,6.3],"nice":false},
 "axis":{"offset":-35,"values":[-0.1,-0.05,0,0.05,0.1],"labelExpr":"replace(replace(format(datum.value,'.1f'),'.',','),'−','-')","labelPadding":20,"labelOverlap":false,"title":"dA/dλ","titleAngle":0,"titleX":-107,"titleY":-3,"titleAlign":"center","titleBaseline":"middle","titleFont":"Liberation Serif","titleFontWeight":"bold","titleFontSize":26}},
"color":{"field":"pH","type":"nominal","scale":{"domain":["pH 1","pH 4","pH 11"],"range":["#151515","#333333","#a9a9a9"]},"legend":{"title":null}},
"strokeWidth":{"field":"pH","type":"ordinal","scale":{"domain":["pH 1","pH 4","pH 11"],"range":[2,1.7,1.1]},"legend":null}
}
}
],
"config":{
"view":{"stroke":null},
"axis":{"grid":false,"domainColor":"#4a4a4a","tickColor":"#4a4a4a","domainWidth":1.3,"tickWidth":1.2,"tickSize":7,"labelFont":"Liberation Sans","labelFontSize":21,"labelColor":"#2b2b2b","titleFont":"Liberation Sans","titleFontWeight":"normal","titleColor":"#222222"},
"title":{"font":"Liberation Serif","fontWeight":"bold","color":"#222222"},
"legend":{"orient":"none","legendX":287,"legendY":638.5,"direction":"horizontal","strokeColor":"#555555","padding":16,"symbolType":"M-1,0L7.5,0","symbolSize":256,"symbolStrokeWidth":1.6,"labelFont":"Liberation Sans","labelFontSize":17,"labelColor":"#222222","labelOffset":60,"columnPadding":34}
}
}
